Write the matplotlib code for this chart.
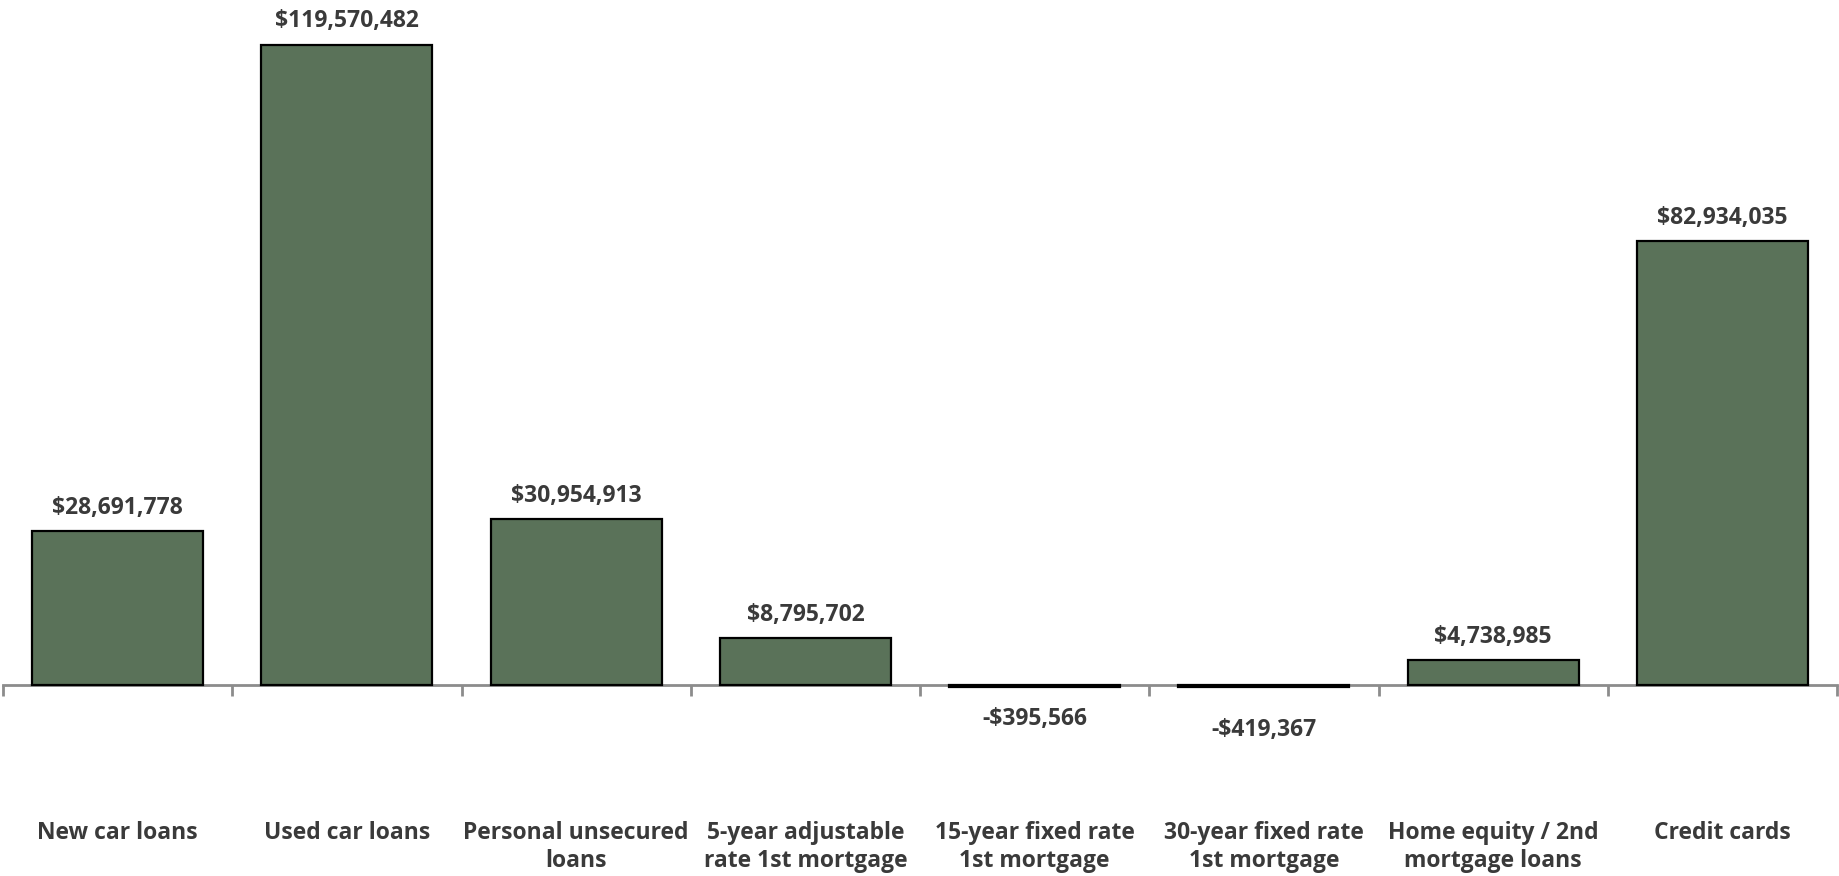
import numpy as np
import matplotlib.pyplot as plt

plt.rcParams['font.family'] = ['Open Sans', 'DejaVu Sans']

#%% Data
categories = ['New car loans', 'Used car loans', 'Personal unsecured\nloans',
              '5-year adjustable\nrate 1st mortgage', '15-year fixed rate\n1st mortgage',
              '30-year fixed rate\n1st mortgage', 'Home equity / 2nd\nmortgage loans',
              'Credit cards']
values = [28691778, 119570482, 30954913, 8795702, -395566, -419367, 4738985, 82934035]

bar_color = '#5a7259'
text_color = '#3a3a3a'
axis_color = '#8c8c8c'

#%% Plot
fig = plt.figure(figsize=[18.39, 8.76], dpi=100)
ax = fig.add_axes([3/1839, 0, 1834/1839, 1])

x = np.arange(len(values))
ax.bar(x, values, width=0.746, color=bar_color, edgecolor='black', linewidth=1.6, zorder=3)

px_per_unit = 640.4 / 119570482
ax.set_ylim(-(876 - 685) / px_per_unit, 685 / px_per_unit)
ax.set_xlim(-0.5, len(values) - 0.5)

for s in ['top', 'left', 'right']:
    ax.spines[s].set_visible(False)
ax.spines['bottom'].set_position(('data', 0))
ax.spines['bottom'].set_color(axis_color)
ax.spines['bottom'].set_linewidth(2)
ax.spines['bottom'].set_zorder(2)
ax.set_yticks([])
ax.set_xticks(np.arange(len(values) + 1) - 0.5)
ax.set_xticklabels([])
ax.tick_params(axis='x', direction='out', length=8, width=2, color=axis_color)

# value labels
neg_offset = [0, 0, 0, 0, -23, -31, 0, 0]
for i, v in enumerate(values):
    txt = '${:,}'.format(v) if v >= 0 else '-${:,}'.format(-v)
    if v >= 0:
        ax.annotate(txt, (i, v), xytext=(0, 8), textcoords='offset points',
                    ha='center', va='bottom', fontsize=16.5, fontweight='bold', color=text_color)
    else:
        ax.annotate(txt, (i, v), xytext=(0, neg_offset[i]), textcoords='offset points',
                    ha='center', va='center', fontsize=16.5, fontweight='bold', color=text_color)

# category labels at the bottom
for i, c in enumerate(categories):
    ax.text(i, 0.0625, c, transform=ax.get_xaxis_transform(), ha='center', va='top',
            fontsize=16.5, fontweight='bold', color=text_color, linespacing=1.22)

plt.savefig('out.png', dpi=100)
